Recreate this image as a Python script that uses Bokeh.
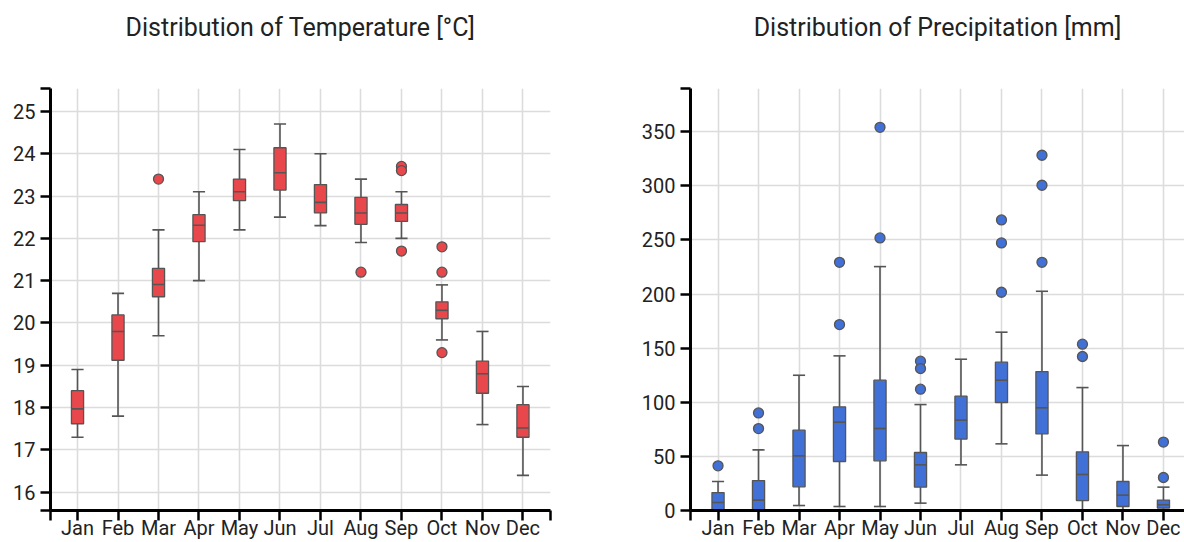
from bokeh.plotting import figure
from bokeh.layouts import row
from bokeh.models import FixedTicker, Range1d, ColumnDataSource, Title
from bokeh.embed import file_html
from bokeh.resources import INLINE

months = ["Jan", "Feb", "Mar", "Apr", "May", "Jun", "Jul", "Aug", "Sep", "Oct", "Nov", "Dec"]
month_idx = list(range(1, 13))

# Temperature [°C]
temp_low = [17.3, 17.8, 19.7, 21.0, 22.2, 22.5, 22.3, 21.9, 22.0, 19.6, 17.6, 16.4]
temp_q1 = [17.62, 19.12, 20.62, 21.92, 22.89, 23.14, 22.6, 22.33, 22.4, 20.1, 18.34, 17.3]
temp_med = [17.97, 19.8, 20.91, 22.31, 23.1, 23.55, 22.85, 22.6, 22.6, 20.3, 18.8, 17.52]
temp_q3 = [18.4, 20.19, 21.29, 22.56, 23.4, 24.14, 23.27, 22.97, 22.8, 20.5, 19.1, 18.07]
temp_high = [18.9, 20.7, 22.2, 23.1, 24.1, 24.7, 24.0, 23.4, 23.1, 20.9, 19.8, 18.5]
temp_out_month = [3, 8, 9, 9, 9, 10, 10, 10]
temp_out_value = [23.4, 21.2, 23.7, 23.6, 21.7, 21.8, 21.2, 19.3]
temp_yticks = [16, 17, 18, 19, 20, 21, 22, 23, 24, 25]

# Precipitation [mm]
prec_low = [0, 0, 4.6, 3.7, 3.7, 6.8, 42.2, 61.6, 32.7, 0, 0, 0]
prec_q1 = [0, 0, 21.9, 45.3, 45.9, 21.6, 66.0, 99.8, 70.8, 9.2, 3.7, 2.2]
prec_med = [7.4, 9.6, 50.5, 81.6, 75.8, 42.2, 83.5, 120.4, 94.9, 33.3, 14.2, 5.3]
prec_q3 = [16.6, 27.7, 74.2, 95.8, 120.4, 53.6, 105.7, 137.1, 128.4, 54.2, 26.8, 9.6]
prec_high = [26.8, 56.0, 125.0, 142.9, 225.4, 97.9, 139.8, 164.8, 202.6, 113.6, 60.0, 21.6]
prec_out_month = [1, 2, 2, 4, 4, 5, 5, 6, 6, 6, 8, 8, 8, 9, 9, 9, 10, 10, 12, 12]
prec_out_value = [41.3, 90.2, 75.7, 229.4, 171.8, 354.1, 251.9, 138.0, 131.2, 112.1,
                  268.5, 247.3, 201.7, 328.3, 300.6, 229.4, 153.7, 142.3, 63.2, 30.5]
prec_yticks = [0, 50, 100, 150, 200, 250, 300, 350]

FONT = "Roboto"
GRID = "#dcdcdc"
EDGE = "#555555"
BOXW = 0.3


def make_plot(title, low, q1, med, q3, high, om, ov, color, yticks, yr, xr,
              width, bl, br, end_tick_right):
    p = figure(width=width, height=542, output_backend="svg", toolbar_location=None,
               x_range=Range1d(*xr), y_range=Range1d(*yr),
               min_border_left=bl, min_border_right=br, min_border_top=88,
               min_border_bottom=31, outline_line_color=None)
    # invisible spacer next to the frame, pushes the title upward
    spacer = Title(text=" ", text_font=FONT, text_font_size="2px", standoff=28,
                   text_color="white")
    p.add_layout(spacer, "above")
    t = Title(text=title, align="center", text_font=FONT, text_font_size="25px",
              text_font_style="normal", text_color="#222222", standoff=25,
              vertical_align="top")
    p.add_layout(t, "above")

    xt = [xr[0]] + month_idx + ([xr[1]] if end_tick_right else [])
    overrides = {m: lab for m, lab in zip(month_idx, months)}
    overrides[xr[0]] = ""
    overrides[xr[1]] = ""
    p.xaxis.ticker = FixedTicker(ticks=xt)
    p.xaxis.major_label_overrides = overrides
    yt = sorted(set([yr[0]] + yticks + [yr[1]]))
    p.yaxis.ticker = FixedTicker(ticks=yt)
    p.yaxis.major_label_overrides = {v: "" for v in (yr[0], yr[1]) if v not in yticks}

    for ax in (p.xaxis[0], p.yaxis[0]):
        ax.axis_line_width = 3
        ax.axis_line_color = "black"
        ax.major_tick_line_width = 2.5
        ax.major_tick_line_color = "black"
        ax.major_tick_out = 10
        ax.major_tick_in = 0
        ax.minor_tick_line_color = None
        ax.major_label_text_font = FONT
        ax.major_label_text_font_size = "20px"
        ax.major_label_text_color = "#222222"
    p.xaxis.major_label_standoff = -5
    p.yaxis.major_label_standoff = 5

    p.xgrid.grid_line_color = GRID
    p.ygrid.grid_line_color = GRID
    p.xgrid.grid_line_width = 1.6
    p.ygrid.grid_line_width = 1.6

    src = ColumnDataSource(dict(
        x=month_idx, low=low, q1=q1, med=med, q3=q3, high=high,
        xl=[m - BOXW / 2 for m in month_idx], xr=[m + BOXW / 2 for m in month_idx]))
    p.segment(x0="x", y0="q3", x1="x", y1="high", source=src, line_color=EDGE, line_width=1.6)
    p.segment(x0="x", y0="q1", x1="x", y1="low", source=src, line_color=EDGE, line_width=1.6)
    p.segment(x0="xl", y0="high", x1="xr", y1="high", source=src, line_color=EDGE, line_width=1.6)
    p.segment(x0="xl", y0="low", x1="xr", y1="low", source=src, line_color=EDGE, line_width=1.6)
    p.vbar(x="x", width=BOXW, top="q3", bottom="q1", source=src, fill_color=color,
           line_color=EDGE, line_width=1.3)
    p.segment(x0="xl", y0="med", x1="xr", y1="med", source=src, line_color=EDGE, line_width=1.6)
    p.scatter(x=om, y=ov, size=10, fill_color=color, line_color=EDGE, line_width=1.3)
    return p


p1 = make_plot("Distribution of Temperature [°C]", temp_low, temp_q1, temp_med, temp_q3,
               temp_high, temp_out_month, temp_out_value, "#e8484c", temp_yticks,
               (15.57, 25.54), (0.333, 12.68), 620, 50, 70, True)
p2 = make_plot("Distribution of Precipitation [mm]", prec_low, prec_q1, prec_med, prec_q3,
               prec_high, prec_out_month, prec_out_value, "#4170d6", prec_yticks,
               (0, 390), (0.32, 12.52), 564, 70, 0, False)

layout = row(p1, p2)
open("out.html", "w").write(file_html(layout, INLINE))
